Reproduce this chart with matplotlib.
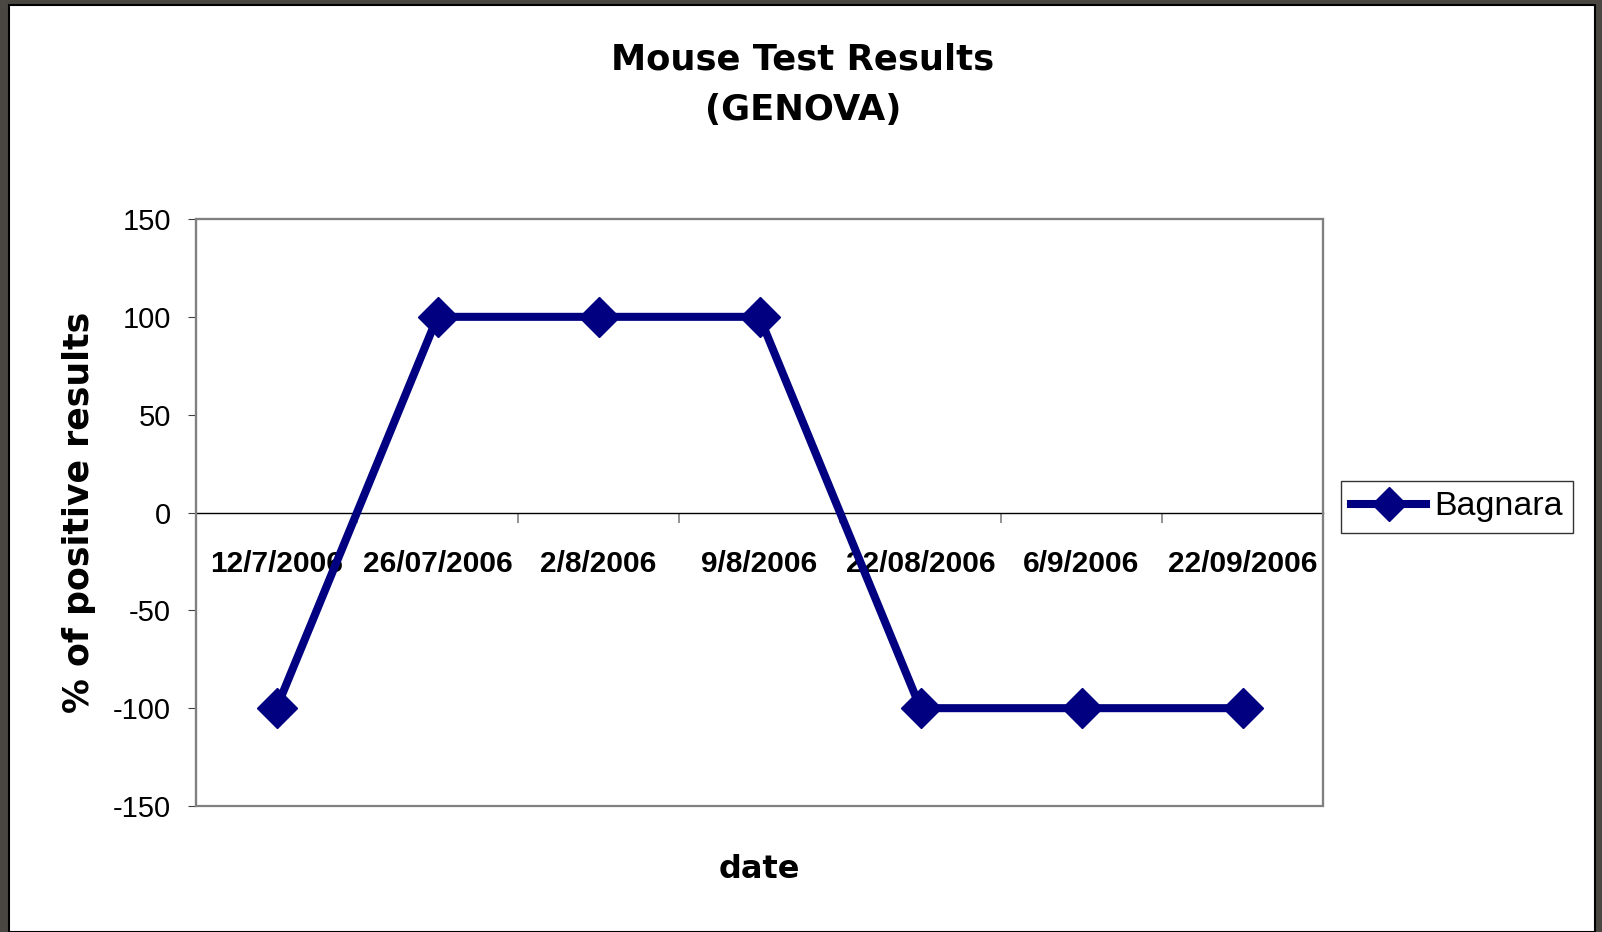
import matplotlib
matplotlib.use("Agg")
import matplotlib.pyplot as plt
from matplotlib.patches import Rectangle
from matplotlib.ticker import FixedLocator

dates = ["12/7/2006", "26/07/2006", "2/8/2006", "9/8/2006",
         "22/08/2006", "6/9/2006", "22/09/2006"]
bagnara = [-100, 100, 100, 100, -100, -100, -100]
yticks = [-150, -100, -50, 0, 50, 100, 150]

W, H = 1602, 932
fig = plt.figure(figsize=(W / 100, H / 100), dpi=100, facecolor="#4a4743")
# white chart area (screenshot frame)
fig.patches.append(Rectangle((9 / W, 0), (1595 - 9) / W, (H - 5) / H,
                             transform=fig.transFigure, facecolor="white",
                             edgecolor="black", linewidth=1.5, zorder=-10))

ax = fig.add_axes([196 / W, (H - 806) / H, (1323 - 196) / W, (806 - 219) / H])
ax.set_zorder(5)
ax.set_facecolor("white")

x = list(range(len(dates)))
ax.plot(x, bagnara, color="#000080", linewidth=5.8, marker="D",
        markersize=20, markerfacecolor="#000080", markeredgecolor="#000080",
        markeredgewidth=1, label="Bagnara", zorder=5, clip_on=False)

ax.set_xlim(-0.5, len(dates) - 0.5)
ax.set_ylim(-150, 150)
ax.set_yticks(yticks)
ax.set_yticklabels([str(v) for v in yticks], fontfamily="Liberation Sans",
                   fontsize=21)
ax.tick_params(axis="y", direction="out", length=6, color="#404040", pad=12)

# x axis at zero
ax.spines["bottom"].set_position(("data", 0))
ax.spines["bottom"].set_color("black")
ax.spines["bottom"].set_linewidth(1)
for s in ["top", "right"]:
    ax.spines[s].set_color("#808080")
    ax.spines[s].set_linewidth(1.5)
ax.spines["left"].set_color("#555555")
ax.spines["left"].set_linewidth(1.5)
ax.add_patch(Rectangle((0, 0), 1, 1, transform=ax.transAxes, fill=False,
                       edgecolor="#808080", linewidth=1.6, clip_on=False,
                       zorder=4))

ax.set_xticks(x)
ax.set_xticklabels(dates, fontfamily="Liberation Sans", fontweight="bold",
                   fontsize=21.5)
ax.tick_params(axis="x", which="major", length=0, pad=27)
ax.xaxis.set_minor_locator(FixedLocator([i + 0.5 for i in range(len(dates) - 1)]))
ax.tick_params(axis="x", which="minor", direction="out", length=7,
               color="#808080", width=1.2)

fig.text(803 / W, 1 - 60 / H, "Mouse Test Results", ha="center", va="center",
         fontfamily="DejaVu Sans", fontweight="bold", fontsize=25.5)
fig.text(803 / W, 1 - 110 / H, "(GENOVA)", ha="center", va="center",
         fontfamily="DejaVu Sans", fontweight="bold", fontsize=25.5)
fig.text(759 / W, 1 - 870 / H, "date", ha="center", va="center",
         fontfamily="DejaVu Sans", fontweight="bold", fontsize=23)
fig.text(79 / W, 1 - 512 / H, "% of positive results", ha="center",
         va="center", rotation=90, fontfamily="DejaVu Sans",
         fontweight="bold", fontsize=25)

leg = fig.legend(loc="center left", bbox_to_anchor=(1341 / W, 1 - 507 / H),
                 prop={"family": "Liberation Sans", "size": 24.5},
                 frameon=True, fancybox=False, edgecolor="black",
                 borderpad=0.3, handlelength=2.2, handletextpad=0.25,
                 borderaxespad=0)
leg.get_frame().set_linewidth(1)
for h in leg.legend_handles:
    h.set_markersize(17)

fig.savefig("out.png", dpi=100, facecolor=fig.get_facecolor())
